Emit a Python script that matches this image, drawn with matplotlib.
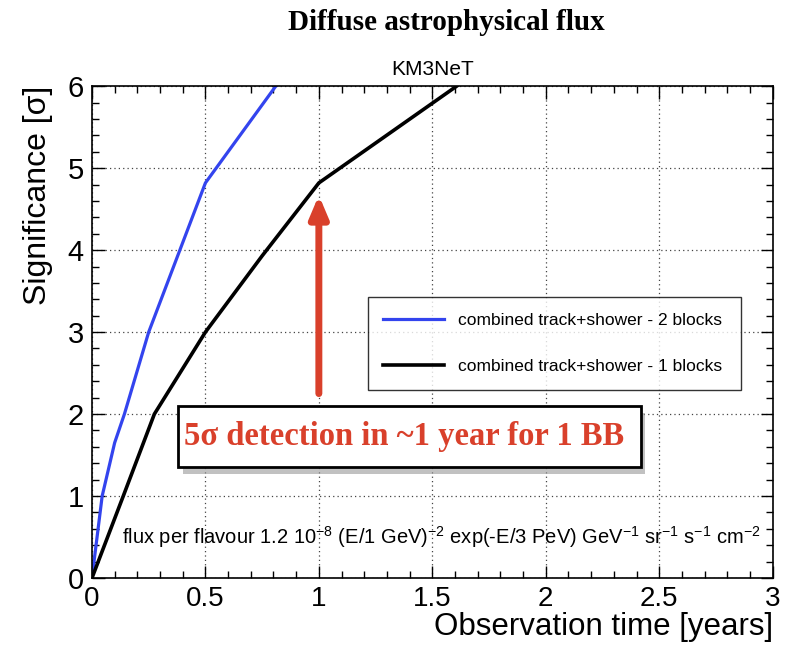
import matplotlib
matplotlib.use("Agg")
import matplotlib.pyplot as plt
from matplotlib.patches import Rectangle
from matplotlib.ticker import MultipleLocator

plt.rcParams['font.family'] = ['Liberation Sans', 'DejaVu Sans']
plt.rcParams['mathtext.default'] = 'regular'

# significance vs observation time
time_2blocks = [0, 0.045, 0.1, 0.143, 0.25, 0.5, 0.81]
sigma_2blocks = [0, 1.0, 1.65, 2.0, 3.0, 4.82, 6.0]
time_1blocks = [0, 0.138, 0.275, 0.5, 0.75, 1.0, 1.607]
sigma_1blocks = [0, 1.0, 2.0, 3.0, 3.93, 4.82, 6.0]
labels = ["combined track+shower - 2 blocks", "combined track+shower - 1 blocks"]

red = "#D9402B"

fig = plt.figure(figsize=(7.86, 6.48), dpi=100)
ax = fig.add_axes([0.117, 0.108, 0.866, 0.759])

ax.plot(time_2blocks, sigma_2blocks, color="#3344EE", lw=2.3, label=labels[0])
ax.plot(time_1blocks, sigma_1blocks, color="black", lw=2.6, label=labels[1])

ax.set_xlim(0, 3)
ax.set_ylim(0, 6)
ax.xaxis.set_major_locator(MultipleLocator(0.5))
ax.xaxis.set_minor_locator(MultipleLocator(0.1))
ax.yaxis.set_major_locator(MultipleLocator(1))
ax.yaxis.set_minor_locator(MultipleLocator(0.2))
ax.set_xticks([0, 0.5, 1, 1.5, 2, 2.5, 3], ["0", "0.5", "1", "1.5", "2", "2.5", "3"])
ax.tick_params(which="both", direction="in", top=True, right=True, labelsize=21, width=1)
ax.tick_params(axis="x", which="major", labelsize=20, pad=6)
ax.tick_params(which="major", length=9)
ax.tick_params(which="minor", length=5)
ax.tick_params(axis="y", which="major", pad=6)
ax.grid(True, which="major", ls=(0, (1, 2.5)), color="#444444", lw=0.9)
for s in ax.spines.values():
    s.set_linewidth(1.2)

ax.set_xlabel("Observation time [years]", fontsize=22.5, loc="right", labelpad=0)
ax.set_ylabel("Significance [\u03c3]", fontsize=23, loc="top", labelpad=10)
ax.set_title("KM3NeT", fontsize=15, pad=8)

fig.text(0.568, 0.966, "Diffuse astrophysical flux", fontsize=21, fontweight="bold",
         family="Liberation Serif", ha="center", va="center")

# legend
leg = ax.legend(loc="upper left", bbox_to_anchor=(0.405, 0.386, 0.549, 0.185), mode="expand",
                fontsize=12.5, frameon=True, fancybox=False, edgecolor="black",
                handlelength=3.5, handletextpad=0.8, labelspacing=1.8, borderpad=0.9,
                borderaxespad=0)
leg.get_frame().set_linewidth(1.0)

# red arrow
ax.annotate("", xy=(1.0, 4.67), xytext=(1.0, 2.25),
            arrowprops=dict(arrowstyle="-|>,head_width=0.55,head_length=1.3",
                            color=red, lw=5, shrinkA=0, shrinkB=0))

# annotation box with shadow
fig.patches.append(Rectangle((0.233, 0.268), 0.588, 0.095, transform=fig.transFigure,
                             facecolor="#999999", edgecolor="none", alpha=0.6, zorder=5))
fig.patches.append(Rectangle((0.227, 0.279), 0.588, 0.095, transform=fig.transFigure,
                             facecolor="white", edgecolor="black", lw=2, zorder=6))
fig.text(0.514, 0.326, "5\u03c3 detection in ~1 year for 1 BB", color=red, fontsize=23.5,
         fontweight="bold", family="Liberation Serif", ha="center", va="center", zorder=7)

ax.text(0.132, 0.5, "flux per flavour 1.2 10$^{-8}$ (E/1 GeV)$^{-2}$ exp(-E/3 PeV) "
        "GeV$^{-1}$ sr$^{-1}$ s$^{-1}$ cm$^{-2}$", fontsize=14.5, ha="left", va="center")

fig.savefig("out.png", dpi=100)
